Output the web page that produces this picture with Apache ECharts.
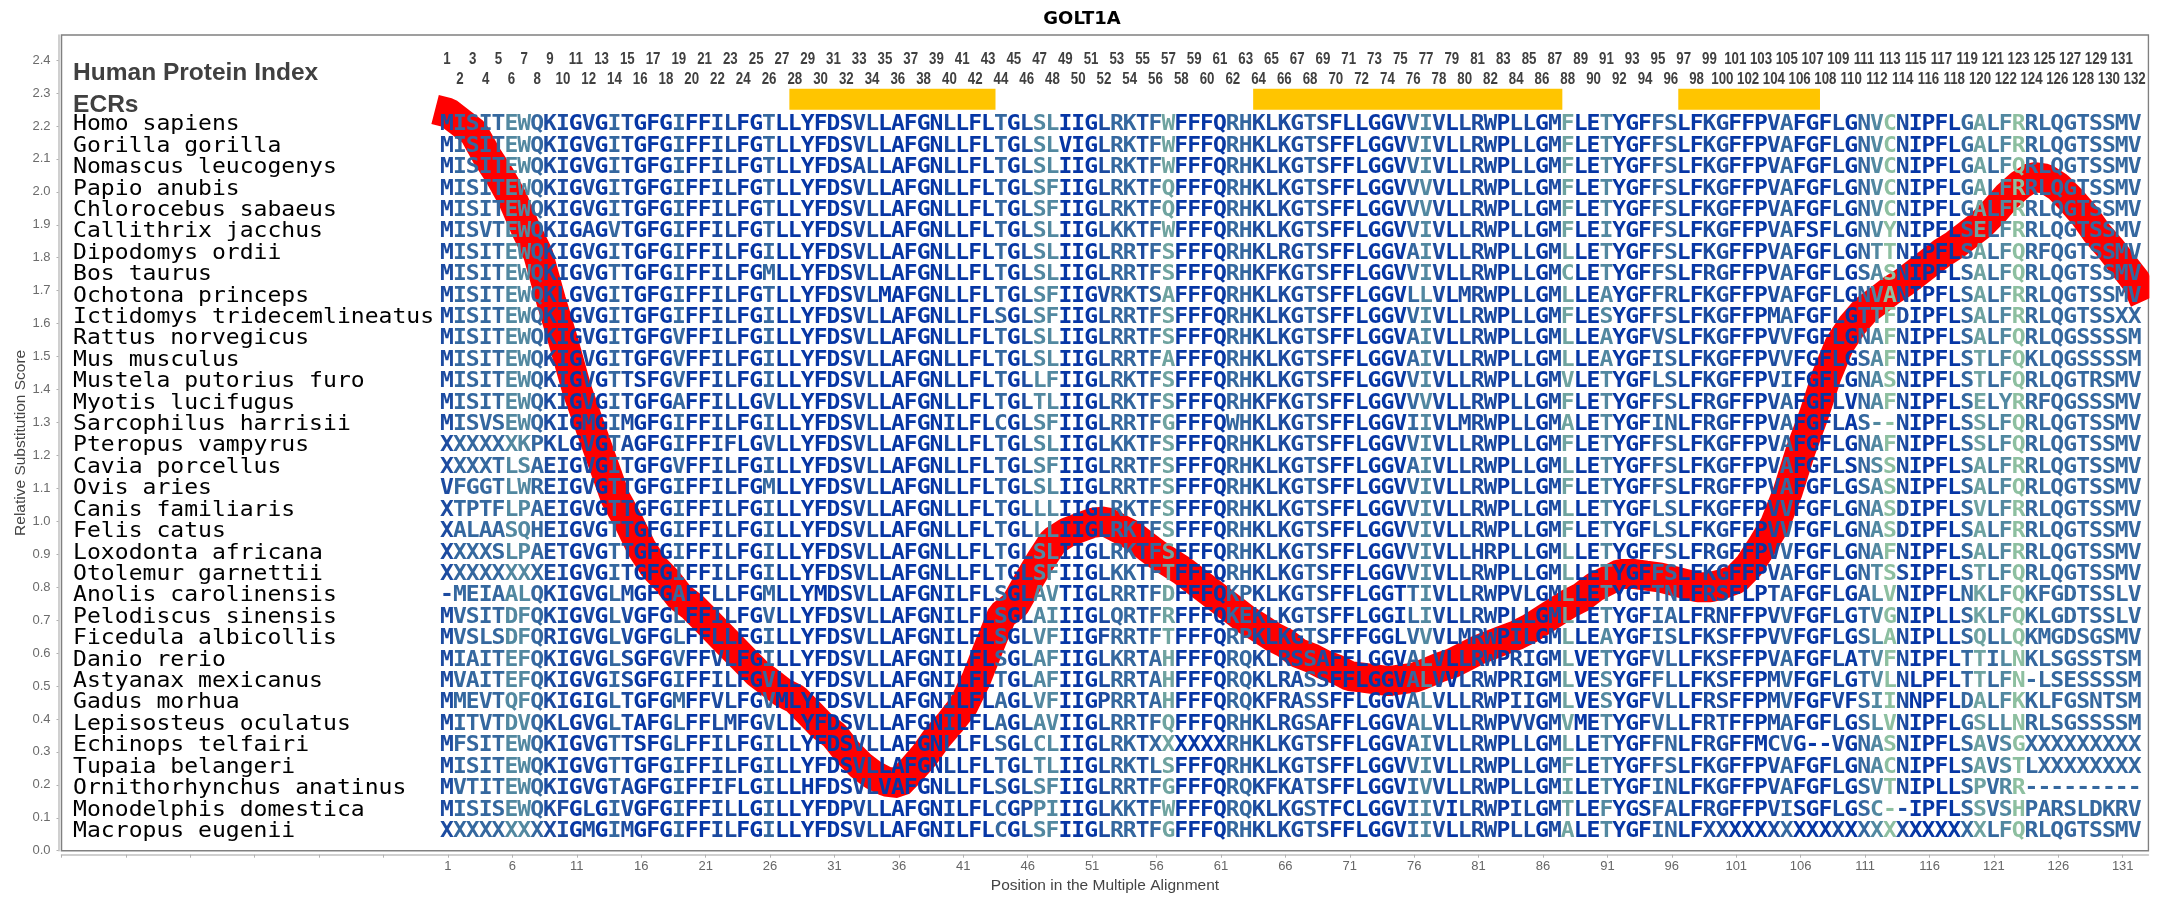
<!DOCTYPE html>
<html>
<head>
<meta charset="utf-8">
<style>html,body{margin:0;padding:0;background:#fff}#c{width:2161px;height:900px}</style>
<script src="https://cdn.jsdelivr.net/npm/echarts@6/dist/echarts.min.js"></script>
</head>
<body>
<div id="c"></div>
<script>
const species = ["Homo sapiens","Gorilla gorilla","Nomascus leucogenys","Papio anubis","Chlorocebus sabaeus","Callithrix jacchus","Dipodomys ordii","Bos taurus","Ochotona princeps","Ictidomys tridecemlineatus","Rattus norvegicus","Mus musculus","Mustela putorius furo","Myotis lucifugus","Sarcophilus harrisii","Pteropus vampyrus","Cavia porcellus","Ovis aries","Canis familiaris","Felis catus","Loxodonta africana","Otolemur garnettii","Anolis carolinensis","Pelodiscus sinensis","Ficedula albicollis","Danio rerio","Astyanax mexicanus","Gadus morhua","Lepisosteus oculatus","Echinops telfairi","Tupaia belangeri","Ornithorhynchus anatinus","Monodelphis domestica","Macropus eugenii"];

const seqStart = ["MISITEWQKIGVGITGFGIFFI","MISITEWQKIGVGITGFGIFFI","MISITEWQKIGVGITGFGIFFI","MISITEWQKIGVGITGFGIFFI","MISITEWQKIGVGITGFGIFFI","MISVTEWQKIGAGVTGFGIFFI","MISITEWQKIGVGITGFGIFFI","MISITEWQKIGVGTTGFGIFFI","MISITEWQKLGVGITGFGIFFI","MISITEWQKIGVGITGFGIFFI","MISITEWQKIGVGITGFGVFFI","MISITEWQKIGVGITGFGVFFI","MISITEWQKIGVGTTSFGVFFI","MISITEWQKIGVGITGFGAFFI","MISVSEWQKIGMGIMGFGIFFI","XXXXXXKPKLGVGTAGFGIFFI","XXXXTLSAEIGVGITGFGVFFI","VFGGTLWREIGVGTTGFGIFFI","XTPTFLPAEIGVGTTGFGIFFI","XALAASQHEIGVGTTGFGIFFI","XXXXSLPAETGVGTTGFGIFFI","XXXXXXXXEIGVGITGFGIFFI","-MEIAALQKIGVGLMGFGAFFL","MVSITDFQKIGVGLVGFGLFFI","MVSLSDFQRIGVGLVGFGLFFL","MIAITEFQKIGVGLSGFGVFFV","MVAITEFQKIGVGISGFGIFFI","MMEVTQFQKIGIGLTGFGMFFV","MITVTDVQKLGVGLTAFGLFFL","MFSITEWQKIGVGTTSFGLFFI","MISITEWQKIGVGTTGFGIFFI","MVTITEWQKIGVGTAGFGIFFI","MISISEWQKFGLGIVGFGIFFI","XXXXXXXXXIGMGIMGFGIFFI"];

const seqMiddle = ["LFGTLLYFDSVLLAFGNLLFLTGLSLIIGLRKTFWFFFQRHKLKGTSFLLGGVVIV","LFGTLLYFDSVLLAFGNLLFLTGLSLVIGLRKTFWFFFQRHKLKGTSFFLGGVVIV","LFGTLLYFDSALLAFGNLLFLTGLSLIIGLRKTFWFFFQRHKLKGTSFFLGGVVIV","LFGTLLYFDSVLLAFGNLLFLTGLSFIIGLRKTFQFFFQRHKLKGTSFFLGGVVVV","LFGTLLYFDSVLLAFGNLLFLTGLSFIIGLRKTFQFFFQRHKLKGTSFFLGGVVVV","LFGTLLYFDSVLLAFGNLLFLTGLSLIIGLKKTFWFFFQRHKLKGTSFFLGGVVIV","LFGILLYFDSVLLAFGNLLFLTGLSLIIGLRRTFSFFFQRHKLRGTSFFLGGVAIV","LFGMLLYFDSVLLAFGNLLFLTGLSLIIGLRRTFSFFFQRHKFKGTSFFLGGVVIV","LFGTLLYFDSVLMAFGNLLFLTGLSFIIGVRKTSAFFFQRHKLKGTSFFLGGVLLV","LFGILLYFDSVLLAFGNLLFLSGLSFIIGLRRTFSFFFQRHKLKGTSFFLGGVVIV","LFGILLYFDSVLLAFGNLLFLTGLSLIIGLRRTFSFFFQRHKLKGTSFFLGGVAIV","LFGILLYFDSVLLAFGNLLFLTGLSLIIGLRRTFAFFFQRHKLKGTSFFLGGVAIV","LFGILLYFDSVLLAFGNLLFLTGLLFIIGLRKTFSFFFQRHKLKGTSFFLGGVVIV","LLGVLLYFDSVLLAFGNLLFLTGLTLIIGLRKTFSFFFQRHKFKGTSFFLGGVVVV","LFGILLYFDSVLLAFGNILFLCGLSFIIGLRRTFGFFFQWHKLKGTSFFLGGVIIV","FLGVLLYFDSVLLAFGNLLFLTGLSLIIGLKKTFSFFFQRHKLKGTSFFLGGVVIV","LFGILLYFDSVLLAFGNLLFLTGLSFIIGLRRTFSFFFQRHKLKGTSFFLGGVAIV","LFGMLLYFDSVLLAFGNLLFLTGLSLIIGLRRTFSFFFQRHKLKGTSFFLGGVVIV","LFGILLYFDSVLLAFGNLLFLTGLLLIIGLRKTFSFFFQRHKLKGTSFFLGGVVIV","LFGILLYFDSVLLAFGNLLFLTGLLLIIGLRKTFSFFFQRHKLKGTSFFLGGVVIV","LFGILLYFDSVLLAFGNLLFLTGLSLIIGLRKTFSFFFQRHKLKGTSFFLGGVVIV","LFGILLYFDSVLLAFGNLLFLTGLSFIIGLKKTFTFFFQRHKLKGTSFFLGGVVIV","LFGMLLYMDSVLLAFGNILFLSGLAVTIGLRRTFDFFFQKPKLKGTSFFLGGTTIV","LFGVLLYFDSVLLAFGNILFLSGLAIIIGLQRTFRFFFQKEKLKGTSFFLGGILIV","LFGILLYFDSVLLAFGNILFLSGLVFIIGFRRTFTFFFQRPKLKGTSFFFGGLVVV","LFGILLYFDSVLLAFGNILFLSGLAFIIGLKRTAHFFFQRQKLRSSAFFLGGVALV","LFGVLLYFDSVLLAFGNILFLTGLAFIIGLRRTAHFFFQRQKLRASSFFLGGVALV","LFGVMLYFDSVLLAFGNILFLAGLVFIIGPRRTAHFFFQRQKFRASSFFLGGVALV","MFGVLLYFDSVLLAFGNILFLAGLAVIIGLRRTFQFFFQRHKLRGSAFFLGGVALV","LFGILLYFDSVLLAFGNLLFLSGLCLIIGLRKTXXXXXXRHKLKGTSFFLGGVAIV","LFGILLYFDSVLLAFGNLLFLTGLTLIIGLRKTLSFFFQRHKLKGTSFFLGGVVIV","FLGILLHFDSVLVAFGNLLFLSGLSFIIGLRRTFGFFFQRQKFKATSFFLGGVIVV","LLGILLYFDPVLLAFGNILFLCGPPIIIGLKKTFWFFFQRQKLKGSTFCLGGVIIV","LFGILLYFDSVLLAFGNILFLCGLSFIIGLRRTFGFFFQRHKLKGTSFFLGGVIIV"];

const seqEnd = ["LLRWPLLGMFLETYGFFSLFKGFFPVAFGFLGNVCNIPFLGALFRRLQGTSSMV","LLRWPLLGMFLETYGFFSLFKGFFPVAFGFLGNVCNIPFLGALFRRLQGTSSMV","LLRWPLLGMFLETYGFFSLFKGFFPVAFGFLGNVCNIPFLGALFQRLQGTSSMV","LLRWPLLGMFLETYGFFSLFKGFFPVAFGFLGNVCNIPFLGALFRRLQGTSSMV","LLRWPLLGMFLETYGFFSLFKGFFPVAFGFLGNVCNIPFLGALFRRLQGTSSMV","LLRWPLLGMFLEIYGFFSLFKGFFPVAFSFLGNVYNIPFLSELFRRLQGTSSMV","LLRWPLLGMLLETYGFFSLFKGFFPVAFGFLGNTTNIPFLSALFQRFQGTSSMV","LLRWPLLGMCLETYGFFSLFRGFFPVAFGFLGSASNIPFLSALFQRLQGTSSMV","LMRWPLLGMLLEAYGFFRLFKGFFPVAFGFLGNVANIPFLSALFRRLQGTSSMV","LLRWPLLGMFLESYGFFSLFKGFFPMAFGFLGTTFDIPFLSALFRRLQGTSSXX","LLRWPLLGMLLEAYGFVSLFKGFFPVVFGFLGNAFNIPFLSALFQRLQGSSSSM","LLRWPLLGMLLEAYGFISLFKGFFPVVFGFLGSAFNIPFLSTLFQKLQGSSSSM","LLRWPLLGMVLETYGFLSLFKGFFPVIFGFLGNASNIPFLSTLFQRLQGTRSMV","LLRWPLLGMFLETYGFFSLFRGFFPVAFGFLVNAFNIPFLSELYRRFQGSSSMV","LMRWPLLGMALETYGFINLFRGFFPVAFGFLAS--NIPFLSSLFQRLQGTSSMV","LLRWPLLGMFLETYGFFSLFKGFFPVAFGFLGNAFNIPFLSSLFQRLQGTSSMV","LLRWPLLGMLLETYGFFSLFKGFFPVAFGFLSNSSNIPFLSALFRRLQGTSSMV","LLRWPLLGMFLETYGFFSLFRGFFPVAFGFLGSASNIPFLSALFQRLQGTSSMV","LLRWPLLGMLLETYGFLSLFKGFFPVVFGFLGNASDIPFLSVLFRRLQGTSSMV","LLRWPLLGMFLETYGFLSLFKGFFPVVFGFLGNASDIPFLSALFRRLQGTSSMV","LLHRPLLGMLLETYGFFSLFRGFFPVVFGFLGNAFNIPFLSALFRRLQGTSSMV","LLRWPLLGMLLETYGFFSLFKGFFPVAFGFLGNTSSIPFLSTLFQRLQGTSSMV","LLRWPVLGMLLETYGFTNLFRSFLPTAFGFLGALVNIPFLNKLFQKFGDTSSLV","LLRWPLLGMLLETYGFIALFRNFFPVVFGFLGTVGNIPLLSKLFQKLGDTSSLV","LMRWPILGMLLEAYGFISLFKSFFPVVFGFLGSLANIPLLSQLLQKMGDSGSMV","LLRWPRIGMLVETYGFVLLFKSFFPVAFGFLATVFNIPFLTTILNKLSGSSTSM","VLRWPRIGMLVESYGFFLLFKSFFPMVFGFLGTVLNLPFLTTLFN-LSESSSSM","LLRWPIIGMLVESYGFVLLFRSFFPMVFGFVFSIINNPFLDALFKKLFGSNTSM","LLRWPVVGMVMETYGFVLLFRTFFPMAFGFLGSLVNIPFLGSLLNRLSGSSSSM","LLRWPLLGMLLETYGFFNLFRGFFMCVG--VGNASNIPFLSAVSGXXXXXXXXX","LLRWPLLGMFLETYGFFSLFKGFFPVAFGFLGNACNIPFLSAVSTLXXXXXXXX","LLRWPLLGMILETYGFINLFKGFFPVAFGFLGSVTNIPLLSPVRR---------","ILRWPILGMTLEFYGSFALFRGFFPVISGFLGSC--IPFLSSVSHPARSLDKRV","LLRWPLLGMALETYGFINLFXXXXXXXXXXXXXXXXXXXXXXLFQRLQGTSSMV"];

// conservation shade of each alignment column, 1..132 (index into shadeColors)
const columnShade = "1222233211"+"0102100020"+"0110020000"+"0011000001"+"0002013300"+"0122124000"+"0221111210"+"0000023101"+"1101101400"+"3000220011"+"0001200010"+"2351000024"+"235222222222";
const shadeColors = ["#0636a5","#1c4ba0","#35689f","#5288a0","#6fa3a0","#8dbfa0"];

const ecrStart = [28, 64, 97];
const ecrEnd   = [43, 87, 107];

const linePositions = [0,1,2,3,4,5,6,7,8,9,10,11,12,13,14,15,16,17,18,19,20,21,22,23,24,25,26,27,28,29,30,31,32,33,34,35,36,37,38,39,40,41,42,43,44,45,46,47,48,49,50,51,52,53,54,55,56,57,58,59,60,61,62,63,64,65,66,67,68,69,70,71,72,73,74,75,76,77,78,79,80,81,82,83,84,85,86,87,88,89,90,91,92,93,94,95,96,97,98,99,100,101,102,103,104,105,106,107,108,109,110,111,112,113,114,115,116,117,118,119,120,121,122,123,124,125,126,127,128,129,130,131,132,132.7];
const lineScores = [2.25,2.24,2.21,2.18,2.11,2.05,1.98,1.89,1.81,1.67,1.54,1.40,1.29,1.18,1.07,1.00,0.92,0.86,0.82,0.77,0.74,0.70,0.66,0.62,0.58,0.54,0.51,0.48,0.46,0.42,0.38,0.35,0.30,0.26,0.23,0.21,0.205,0.245,0.29,0.345,0.39,0.44,0.52,0.62,0.715,0.745,0.815,0.88,0.94,0.965,0.98,0.995,1.0,0.98,0.96,0.93,0.90,0.875,0.85,0.82,0.79,0.76,0.73,0.70,0.676,0.65,0.63,0.60,0.585,0.565,0.55,0.53,0.525,0.52,0.515,0.52,0.525,0.54,0.557,0.57,0.59,0.61,0.625,0.64,0.655,0.675,0.70,0.725,0.75,0.77,0.80,0.82,0.84,0.84,0.835,0.83,0.82,0.81,0.80,0.80,0.81,0.825,0.865,0.925,0.99,1.09,1.215,1.32,1.44,1.535,1.595,1.64,1.67,1.70,1.725,1.755,1.785,1.815,1.84,1.87,1.90,1.94,1.985,2.02,2.045,2.04,2.015,1.975,1.93,1.875,1.83,1.78,1.73,1.67];

const yTickLabels = ["0.0","0.1","0.2","0.3","0.4","0.5","0.6","0.7","0.8","0.9","1.0","1.1","1.2","1.3","1.4","1.5","1.6","1.7","1.8","1.9","2.0","2.1","2.2","2.3","2.4"];
const xTickPositions = [-29,-24,-19,-14,-9,-4,1,6,11,16,21,26,31,36,41,46,51,56,61,66,71,76,81,86,91,96,101,106,111,116,121,126,131];

const U = p => p - 1;                     // axis runs on position-1 so that its min is a multiple of 5
const rowBase = i => 2.184 - i * 0.065;
const monoB = 'bold 20px "DejaVu Sans Mono"';
const mono  = '20px "DejaVu Sans Mono"';

function textSeries(items, z) {
  return {
    type: 'custom', coordinateSystem: 'cartesian2d', silent: true, z: z, clip: false,
    data: items.map(d => [d.x, d.y]),
    renderItem(params, api) {
      const d = items[params.dataIndex];
      const p = api.coord([d.x, d.y]);
      return { type: 'text', x: p[0], y: p[1] - (d.up || 6.8), scaleX: d.sx || 1, scaleY: d.sy || 1, silent: true,
        style: { text: d.t, font: d.font, fill: d.fill, align: d.align || 'center', verticalAlign: 'middle' } };
    }
  };
}

const residues = [];
species.forEach((s, r) => {
  const seq = seqStart[r] + seqMiddle[r] + seqEnd[r];
  for (let c = 0; c < seq.length; c++) {
    residues.push({ x: U(c + 1) - 0.08, y: rowBase(r), t: seq[c], font: monoB, sx: 1.15, sy: 1.07, fill: shadeColors[+columnShade[c]], up: 6.5 });
  }
});
const names = species.map((s, r) => ({ x: -29.1, y: rowBase(r), t: s, font: mono, sx: 1.153, sy: 1.07, fill: '#000', align: 'left', up: 6.5 }));
const posLabels = [];
for (let p = 1; p <= 132; p++) {
  posLabels.push({ x: U(p) - 0.08, y: p % 2 ? 2.3876 : 2.324, t: String(p), font: 'bold 16px "Liberation Sans"', sx: 0.83, fill: '#404040', up: 5 });
}
const headers = [
  { x: -29.1, y: 2.339, t: 'Human Protein Index', font: 'bold 24.5px "Liberation Sans"', fill: '#404040', align: 'left', up: 6.5 },
  { x: -29.1, y: 2.243, t: 'ECRs', font: 'bold 24.5px "Liberation Sans"', fill: '#404040', align: 'left', up: 7 }
];

const chart = echarts.init(document.getElementById('c'), null, { renderer: 'canvas' });
chart.setOption({
  animation: false,
  backgroundColor: '#fff',
  title: { text: 'GOLT1A', left: 1077, top: 5, textAlign: 'center',
    textStyle: { fontFamily: 'DejaVu Sans', fontWeight: 'bold', fontSize: 18, color: '#000' } },
  grid: { left: 61.5, right: 12.5, top: 35, bottom: 49.3, show: true, borderColor: '#808080', borderWidth: 1.5, backgroundColor: '#fff' },
  graphic: [{ type: 'rect', z: 1000, silent: true, shape: { x: 2149.4, y: 0, width: 12, height: 900 }, style: { fill: '#fff' } }],
  xAxis: {
    type: 'value', min: -30, max: 132, interval: 5, offset: 4,
    name: 'Position in the Multiple Alignment', nameLocation: 'middle', nameGap: 23,
    nameTextStyle: { fontFamily: 'Liberation Sans', fontSize: 15.5, color: '#444' },
    splitLine: { show: false },
    axisLine: { show: true, onZero: false, lineStyle: { color: '#c0c0c0', width: 1.5 } },
    axisTick: { show: true, length: 3, customValues: xTickPositions.map(U), lineStyle: { color: '#b0b0b0' } },
    axisLabel: { margin: 5, fontFamily: 'Liberation Sans', fontSize: 13, color: '#666',
      customValues: xTickPositions.filter(p => p > 0).map(U),
      formatter: v => String(v + 1) }
  },
  yAxis: {
    type: 'value', min: 0, max: 2.476, interval: 0.1, offset: 3,
    name: 'Relative Substitution Score', nameLocation: 'middle', nameGap: 30, nameMoveOverlap: false,
    nameTextStyle: { fontFamily: 'Liberation Sans', fontSize: 15.5, color: '#444' },
    splitLine: { show: false },
    axisLine: { show: true, onZero: false, lineStyle: { color: '#c0c0c0', width: 1.5 } },
    axisTick: { show: true, length: 2, customValues: yTickLabels.map(Number), lineStyle: { color: '#b0b0b0' } },
    axisLabel: { margin: 8, fontFamily: 'Liberation Sans', fontSize: 13, color: '#6b6b6b',
      customValues: yTickLabels.map(Number), formatter: v => v.toFixed(1) }
  },
  series: [
    { type: 'line', z: 2, silent: true, showSymbol: false, symbol: 'none', clip: true,
      data: linePositions.map((p, i) => [U(p), lineScores[i]]),
      lineStyle: { color: '#ff0000', width: 30, cap: 'butt', join: 'bevel' } },
    { type: 'custom', coordinateSystem: 'cartesian2d', silent: true, z: 3,
      data: ecrStart.map((s, i) => [U(s), U(ecrEnd[i])]),
      renderItem(params, api) {
        const a = api.coord([api.value(0) - 0.5, 2.313]);
        const b = api.coord([api.value(1) + 0.5, 2.249]);
        return { type: 'rect', shape: { x: a[0], y: a[1], width: b[0] - a[0], height: b[1] - a[1] }, style: { fill: '#ffc500' } };
      } },
    textSeries(names, 5),
    textSeries(posLabels, 5),
    textSeries(headers, 5),
    textSeries(residues, 6)
  ]
});
</script>
</body>
</html>
